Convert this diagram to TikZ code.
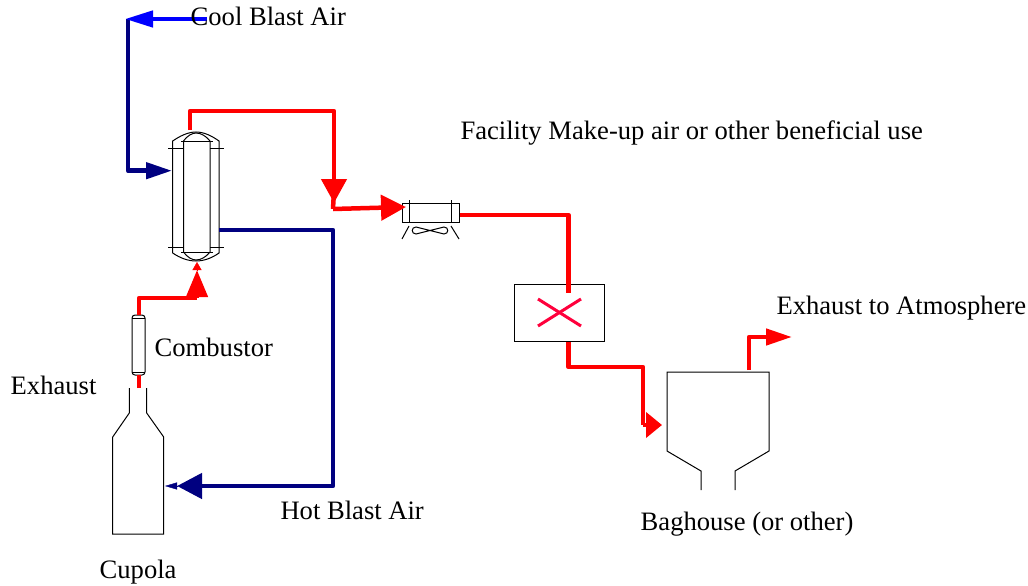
\documentclass[tikz,border=0pt]{standalone}
\usepackage{xcolor}
\usepackage{fontspec}
\setmainfont{Liberation Serif}
\usetikzlibrary{arrows.meta}
\definecolor{darkpipe}{RGB}{0,0,128}
\definecolor{crosscol}{RGB}{255,0,60}

\begin{document}
\begin{tikzpicture}[x=1pt,y=-1pt,
            unit/.style={draw=black, line width=1pt},
            txt/.style={anchor=base west, inner sep=0pt, font=\fontsize{26.6}{30}\selectfont},
            redpipe/.style={draw=red, line width=4.5pt, line join=round},
            navypipe/.style={draw=darkpipe, line width=4.5pt, line join=round},
            bigtip/.style={-{Triangle[length=#1,width=25pt]}},
            smalltip/.style={-{Triangle[length=#1,width=16pt]}}]
        \useasboundingbox (0,0) rectangle (1028,586);

        % recuperator
        \draw[unit] (172.7,253) -- (172.7,141) .. controls (180,136) and (188,132) .. (196,132) .. controls (204,132) and (212,136) .. (219,141) -- (219,253) .. controls (212,258) and (204,261) .. (196,261) .. controls (188,261) and (180,258) .. (172.7,253);
        \draw[unit] (183.5,252) -- (183.5,141) .. controls (187,136) and (192,133) .. (196,133) .. controls (201,133) and (206,136) .. (210,141) -- (210,252) .. controls (206,257) and (201,260) .. (196,260) .. controls (192,260) and (187,257) .. (183.5,252);
        \draw[unit] (181,141) -- (212.7,141);
        \draw[unit] (181,252) -- (212.7,252);
        \draw[unit] (168,148) -- (183.5,148);
        \draw[unit] (210,148) -- (224,148);
        \draw[unit] (168,247) -- (183.5,247);
        \draw[unit] (210,247) -- (224,247);

        % combustor
        \draw[unit, rounded corners=3pt] (132,315) rectangle (145,375);
        \draw[unit] (132,318) -- (145,318);
        \draw[unit] (132,372) -- (145,372);

        % cupola
        \draw[unit] (129.3,388) -- (129.3,413) -- (112.7,437) -- (112.7,534) -- (163.7,534) -- (163.7,437) -- (146.7,413) -- (146.7,388);

        % cooler
        \node[unit, minimum width=57pt, minimum height=19pt, inner sep=0pt] (cooler) at (430.5,212.5) {};
        \draw[unit] (409,200) -- (409,222);
        \draw[unit] (451,200) -- (451,222);
        \draw[unit] (409,226) -- (402,239);
        \draw[unit] (451,226) -- (459,239);
        \draw[unit] (416,227) -- (444,234) .. controls (449,234) and (449,227) .. (444,227) -- (416,234) .. controls (411,234) and (411,227) .. (416,227) -- cycle;

        % mixer box
        \node[unit, minimum width=89.5pt, minimum height=57pt, inner sep=0pt] (mixer) at (559.3,312.5) {};
        \draw[draw=crosscol, line width=3pt] (538,299) -- (581,326);
        \draw[draw=crosscol, line width=3pt] (538,326) -- (581,299);

        % baghouse
        \draw[unit] (701,490) -- (701,471) -- (667,451) -- (667,372) -- (769,372) -- (769,451) -- (735,471) -- (735,490);

        % pipe points
        \coordinate (coolin) at (207,19);
        \coordinate (coolcorner) at (128,19);
        \coordinate (recupin) at (172,170.7);
        \coordinate (recuptop) at (190,130);
        \coordinate (hotout) at (219,230);
        \coordinate (cupolain) at (177,486);
        \coordinate (cupolaside) at (165,486);
        \coordinate (drop) at (334,203);
        \coordinate (bend) at (333,209);
        \coordinate (coolerin) at (406,207);
        \coordinate (coolerout) at (460,215);
        \coordinate (mixerin) at (568.5,293);
        \coordinate (mixerout) at (568.5,342);
        \coordinate (baghousein) at (662,425);
        \coordinate (baghouseout) at (749,370);
        \coordinate (stack) at (792,337);
        \coordinate (combout) at (139,315);
        \coordinate (combin) at (139,375);
        \coordinate (cupolaout) at (139,388);
        \coordinate (recupbot) at (197,270);
        \coordinate (recupbase) at (197,262);

        % pipes
        \draw[navypipe] (coolcorner) -- (128,170.7) -- (146,170.7);
        \draw[navypipe, smalltip=26pt] (146,170.7) -- (recupin);
        \draw[draw=blue, line width=4.5pt, smalltip=28pt] (coolin) -- (125,19);
        \draw[redpipe, bigtip=24pt] (recuptop) -- (190,111) -- (334,111) -- (drop);
        \draw[redpipe] (334,190) -- (bend);
        \draw[redpipe, bigtip=25pt] (bend) -- (coolerin);
        \draw[redpipe] (coolerout) -- (568.5,215) -- (mixerin);
        \draw[redpipe] (mixerout) -- (568.5,367) -- (643,367) -- (643,425);
        \draw[redpipe, bigtip=16pt] (643,425) -- (baghousein);
        \draw[redpipe, smalltip=26pt] (baghouseout) -- (749,337) -- (stack);
        \draw[redpipe] (cupolaout) -- (combin);
        \draw[redpipe] (combout) -- (139,298) -- (197,298);
        \draw[redpipe, -{Triangle[length=27pt,width=21pt]}] (197,298) -- (recupbot);
        \draw[draw=red, -{Triangle[length=8pt,width=9pt]}] (recupbot) -- (recupbase);
        \draw[navypipe, bigtip=25pt] (hotout) -- (333,230) -- (333,486) -- (cupolain);
        \draw[draw=darkpipe, -{Triangle[length=12pt,width=7pt]}] (cupolain) -- (cupolaside);

        % labels
        \node[txt] (coolair) at (190.5,26) {Cool Blast Air};
        \node[txt] (facility) at (460.3,139) {Facility Make-up air or other beneficial use};
        \node[txt] (combustor) at (154.5,356) {Combustor};
        \node[txt] (exhaust) at (10.5,394) {Exhaust};
        \node[txt] (atmosphere) at (776.3,314) {Exhaust to Atmosphere};
        \node[txt] (hotair) at (280.3,519) {Hot Blast Air};
        \node[txt] (baghouse) at (640.5,530) {Baghouse (or other)};
        \node[txt] (cupola) at (99.5,578) {Cupola};
\end{tikzpicture}
\end{document}
